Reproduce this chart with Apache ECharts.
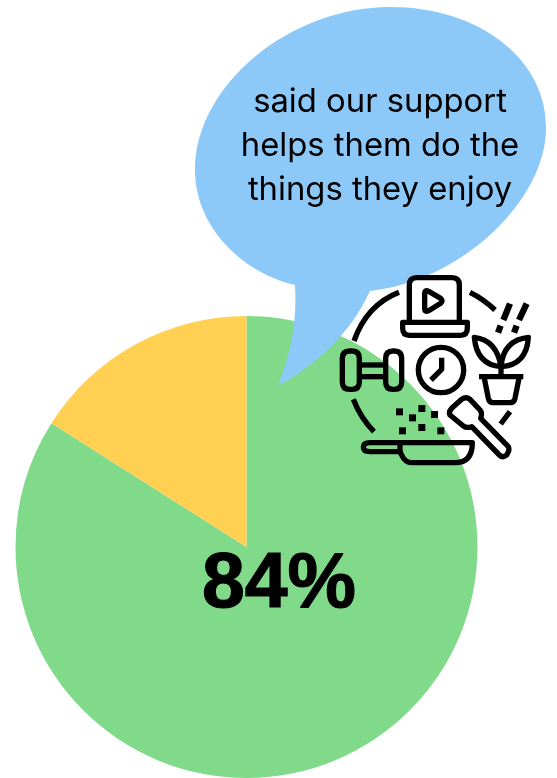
<!DOCTYPE html>
<html>
<head>
<meta charset="utf-8">
<style>html,body{margin:0;padding:0;background:#fff}#chart{width:557px;height:778px}</style>
<script src="https://cdn.jsdelivr.net/npm/echarts@6/dist/echarts.min.js"></script>
</head>
<body>
<div id="chart"></div>
<script>
// Survey result: share who said support helps them do the things they enjoy
const categories = ['Agree', 'Other'];
const shares = [84, 16];
const sliceColors = ['#80DA8A', '#FFD052'];
const calloutLines = ['said our support', 'helps them do the', 'things they enjoy'];

// Speech bubble outline
const bubblePath = 'M295,285 C240,272 195,225 195,170 C195,85 290,7 390,7 C480,7 547,60 546,128 C546,200 462,281 370,291 C350,335 315,365 278,386 C292,350 297,320 295,285 Z';

// Hobby icon strokes, drawn on a 3x grid and scaled down
const iconStrokes = [
  // ring segments
  'M207,97 Q110,135 72,243', 'M420,97 Q462,118 495,150', 'M540,455 L512,492', 'M70,418 Q92,475 132,515',
  // laptop
  'M238,187 V75 Q238,53 260,53 H366 Q388,53 388,75 V187',
  'M218,187 H412 V205 Q412,226 392,226 H238 Q218,226 218,205 Z',
  'M284,100 Q284,88 296,94 L332,115 Q340,123 332,130 L296,152 Q284,158 284,146 Z',
  // dumbbell
  'M59,273 H66 Q88,273 88,295 V366 Q88,388 66,388 H59 Q37,388 37,366 V295 Q37,273 59,273 Z',
  'M189,273 H193 Q215,273 215,295 V366 Q215,388 193,388 H189 Q167,388 167,366 V295 Q167,273 189,273 Z',
  'M88,315 H167', 'M88,350 H167',
  // clock
  'M265,330 A68,68 0 1 1 401,330 A68,68 0 1 1 265,330 Z', 'M335,293 V328 L303,360',
  // plant
  'M447,350 H580', 'M462,350 L475,415 Q478,428 490,428 H540 Q552,428 555,415 L568,350', 'M513,350 V290',
  'M433,232 Q500,240 513,320 Q440,315 433,232 Z', 'M595,232 Q520,240 513,320 Q590,315 595,232 Z',
  // spoon
  'M360,465 Q355,455 365,445 L395,418 Q408,408 420,418 L450,450 Q458,460 452,475 L535,560 Q540,570 530,585 Q518,595 508,585 L425,500 Q410,505 400,498 Z',
  // pan
  'M100,562 Q100,548 120,548 H427 Q427,608 375,608 H245 Q225,608 215,585 L210,575 H120 Q100,575 100,562 Z', 'M210,548 V578'
];
// Falling drops above the plant
const iconDrops = ['M540,131 L520,180', 'M590,131 L567,180', 'M512,197 L504,218', 'M560,197 L552,218'];
const iconDots = [[198,445],[237,463],[265,435],[303,453],[207,502],[265,492],[322,502]];

const chart = echarts.init(document.getElementById('chart'), null, { renderer: 'canvas' });

const strokeEl = (d, lineWidth) => ({
  type: 'path',
  shape: { pathData: d },
  style: { fill: null, stroke: '#000', lineWidth, lineJoin: 'round' }
});
const iconChildren = iconStrokes.map(d => strokeEl(d, 16))
  .concat(iconDrops.map(d => strokeEl(d, 19)))
  .concat(iconDots.map(([x, y]) => ({
    type: 'rect',
    shape: { x, y, width: 21, height: 21 },
    style: { fill: '#000' }
  })));

// Bubble, caption, icon and headline figure, layered above the pie
function renderOverlay() {
  return {
    type: 'group',
    children: [
      { type: 'path', shape: { pathData: bubblePath }, style: { fill: '#8CC9F8' } },
      {
        type: 'text', x: 380, y: 146,
        style: {
          text: calloutLines.join('\n'), fill: '#000', align: 'center', verticalAlign: 'middle',
          font: '400 32.8px Inter', lineHeight: 44
        }
      },
      { type: 'group', x: 330, y: 260, scaleX: 1 / 3, scaleY: 1 / 3, children: iconChildren },
      {
        type: 'text', x: 279, y: 586,
        style: {
          text: shares[0] + '%', fill: '#000', stroke: '#000', lineWidth: 1.2, align: 'center', verticalAlign: 'middle',
          font: '700 77px "Liberation Sans"'
        }
      }
    ]
  };
}

chart.setOption({
  animation: false,
  series: [{
    type: 'pie',
    center: [246.5, 547],
    radius: [0, 231],
    startAngle: 90,
    clockwise: true,
    silent: true,
    label: { show: false },
    labelLine: { show: false },
    data: categories.map((name, i) => ({ name, value: shares[i], itemStyle: { color: sliceColors[i] } }))
  }, {
    type: 'custom',
    coordinateSystem: 'none',
    silent: true,
    z: 10,
    data: [shares[0]],
    renderItem: renderOverlay
  }]
});
</script>
</body>
</html>
